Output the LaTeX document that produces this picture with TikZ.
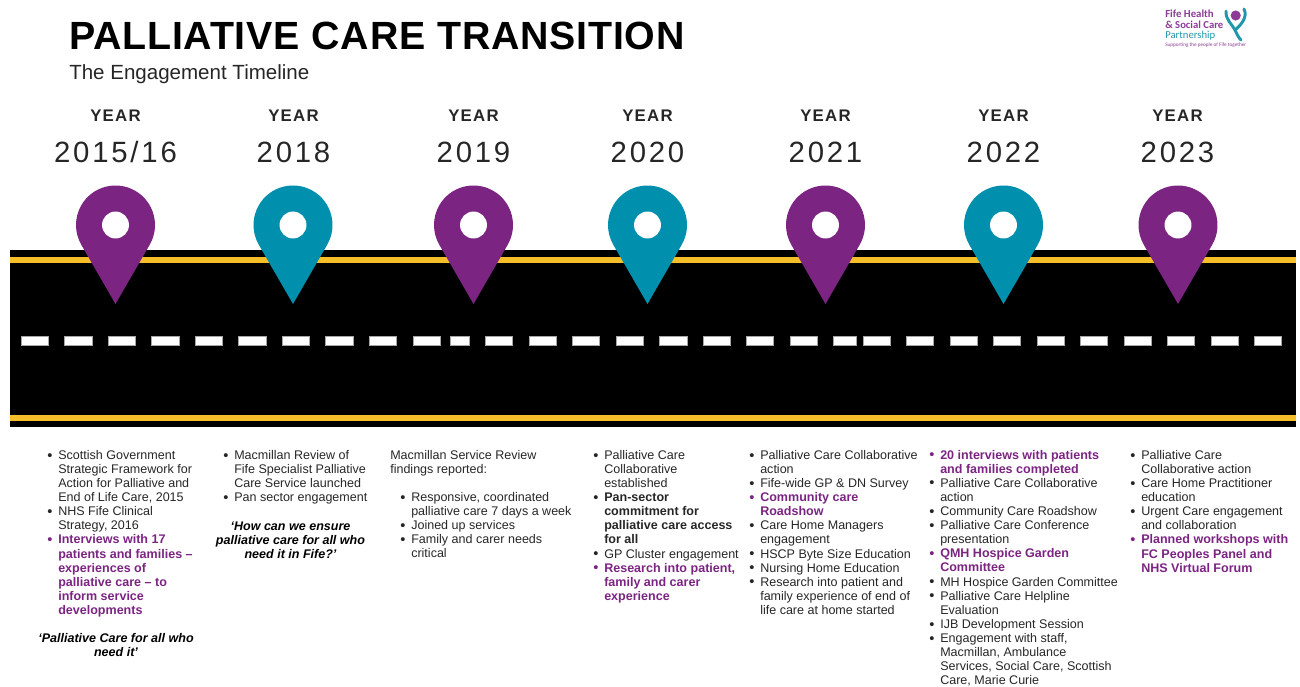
\documentclass[tikz,border=0pt]{standalone}
\usepackage{fontspec}
\setmainfont{Liberation Sans}
\newfontfamily\yrfont[LetterSpace=9.5]{Liberation Sans}
\newfontfamily\yrbfont[LetterSpace=7.5]{Liberation Sans Bold}
\newfontfamily\titlefont[LetterSpace=2]{Liberation Sans Bold}
\newfontfamily\logofont{Carlito}
\definecolor{pinpurple}{HTML}{7B2482}
\definecolor{pinteal}{HTML}{008FAD}
\definecolor{roadyellow}{HTML}{F5BF2A}
\definecolor{bodytext}{HTML}{262626}
\definecolor{logopurple}{HTML}{8C3B96}
\definecolor{logoteal}{HTML}{2296AB}
\newcommand{\bigbul}{\raisebox{-0.5pt}{\fontsize{11}{10}\selectfont\textbullet}}
\newcommand{\itm}{\leavevmode\llap{\bigbul\hspace{4.3pt}}}
\newcommand{\pl}[1]{{\color{pinpurple}\bfseries #1}}
\newcommand{\plitm}{\leavevmode\llap{\textcolor{pinpurple}{\bigbul}\hspace{4.3pt}}}
\newcommand{\firstyear}{2015/16}
\tikzset{
  bodyblock/.style={anchor=north west,inner sep=0pt,align=left,text=bodytext,
    font=\fontsize{9.4}{10.58}\selectfont},
  quoteblock/.style={anchor=north,inner sep=0pt,align=center,text=black,
    font=\fontsize{9.4}{10.58}\selectfont\bfseries\itshape},
  yearword/.style={inner sep=0pt,anchor=base,text=bodytext,font=\fontsize{12.6}{14}\yrbfont},
  yearnum/.style={inner sep=0pt,anchor=base,text=bodytext,font=\fontsize{22}{26}\yrfont},
  logotext/.style={inner sep=0pt,anchor=base west},
  dashmark/.style={fill=white,draw=black!35,line width=0.3pt},
}
\begin{document}
\begin{tikzpicture}[x=0.75pt,y=-0.75pt]
\useasboundingbox (0,0) rectangle (1300,686);
% road
\fill[black] (10,250) rectangle (1296,427);
\fill[roadyellow] (10,257) rectangle (1296,262.5);
\fill[roadyellow] (10,415) rectangle (1296,421);
\foreach \a/\b in {21/48,64/92,108/135,151/179,195/222,238/266,282/309,325/353,369/396,413/440,450/469,485/512,529/556,572/599,616/643,659/687,703/730,746/773,790/817,833/856,863/890,906/933,950/977,993/1020,1037/1064,1080/1107,1124/1151,1167/1194,1211/1238,1254/1281}
  \path[dashmark] (\a,336) rectangle (\b,345);
% pins
\foreach \cx/\col in {115.5/pinpurple,293/pinteal,473.5/pinpurple,647.5/pinteal,825.5/pinpurple,1003.5/pinteal,1178/pinpurple}{
  \fill[\col] (\cx,304) -- (\cx+34.2,244.75) arc[start angle=-30,end angle=210,radius=29.625pt] -- cycle;
  \fill[white] (\cx,225) circle[radius=10.1pt];
}
% title
\node[inner sep=0pt,anchor=base west,font=\fontsize{29.5}{34}\titlefont] (title) at (69,49.7) {PALLIATIVE CARE TRANSITION};
\node[inner sep=0pt,anchor=base west,font=\fontsize{15.4}{18}\selectfont,text=bodytext] (subtitle) at (69,79) {The Engagement Timeline};
% years
\foreach \n/\cx/\y in {a/115.5/\firstyear,b/293.5/2018,c/473.5/2019,d/647.5/2020,e/825.5/2021,f/1003.5/2022,g/1177.5/2023}{
  \node[yearword] (yw\n) at (\cx,121) {YEAR};
  \node[yearnum] (yn\n) at (\cx,162.3) {\y};
}
% text blocks
\node[bodyblock] (cola) at (58,450) {\itm Scottish Government\\Strategic Framework for\\Action for Palliative and\\End of Life Care, 2015\\\itm NHS Fife Clinical\\Strategy, 2016\\\plitm\pl{Interviews with 17}\\\pl{patients and families –}\\\pl{experiences of}\\\pl{palliative care – to}\\\pl{inform service}\\\pl{developments}};
\node[quoteblock] (quotea) at (116,633) {‘Palliative Care for all who\\need it’};
\node[bodyblock] (colb) at (234,450) {\itm Macmillan Review of\\Fife Specialist Palliative\\Care Service launched\\\itm Pan sector engagement};
\node[quoteblock] (quoteb) at (290.5,521.5) {‘How can we ensure\\palliative care for all who\\need it in Fife?’};
\node[bodyblock] (colc) at (390,450) {Macmillan Service Review\\findings reported:};
\node[bodyblock] (colclist) at (411,492) {\itm Responsive, coordinated\\palliative care 7 days a week\\\itm Joined up services\\\itm Family and carer needs\\critical};
\node[bodyblock] (cold) at (604,450) {\itm Palliative Care\\Collaborative\\established\\\itm\textbf{Pan-sector}\\\textbf{commitment for}\\\textbf{palliative care access}\\\textbf{for all}\\\itm GP Cluster engagement\\\plitm\pl{Research into patient,}\\\pl{family and carer}\\\pl{experience}};
\node[bodyblock] (cole) at (760,450) {\itm Palliative Care Collaborative\\action\\\itm Fife-wide GP \& DN Survey\\\plitm\pl{Community care}\\\pl{Roadshow}\\\itm Care Home Managers\\engagement\\\itm HSCP Byte Size Education\\\itm Nursing Home Education\\\itm Research into patient and\\family experience of end of\\life care at home started};
\node[bodyblock] (colf) at (940,449.7) {\plitm\pl{20 interviews with patients}\\\pl{and families completed}\\\itm Palliative Care Collaborative\\action\\\itm Community Care Roadshow\\\itm Palliative Care Conference\\presentation\\\plitm\pl{QMH Hospice Garden}\\\pl{Committee}\\\itm MH Hospice Garden Committee\\\itm Palliative Care Helpline\\Evaluation\\\itm IJB Development Session\\\itm Engagement with staff,\\Macmillan, Ambulance\\Services, Social Care, Scottish\\Care, Marie Curie};
\node[bodyblock] (colg) at (1141,450) {\itm Palliative Care\\Collaborative action\\\itm Care Home Practitioner\\education\\\itm Urgent Care engagement\\and collaboration\\\plitm\pl{Planned workshops with}\\\pl{FC Peoples Panel and}\\\pl{NHS Virtual Forum}};
% logo
\node[logotext,text=logopurple,font=\fontsize{8.1}{9}\logofont\bfseries] (logoa) at (1165,17.5) {Fife Health};
\node[logotext,text=logopurple,font=\fontsize{8}{9}\logofont\bfseries] (logob) at (1165,28) {\& Social Care};
\node[logotext,text=logoteal,font=\fontsize{8}{9}\logofont] (logoc) at (1165,38) {Partnership};
\node[logotext,text=logopurple,font=\fontsize{3.9}{5}\logofont] (logod) at (1165,46.5) {Supporting the people of Fife together};
\fill[logopurple] (1235.7,15.5) circle[radius=3.8pt];
\draw[logoteal,line width=2.2pt,line cap=round] (1226,11) .. controls (1225.5,20) and (1232,24) .. (1235,30) .. controls (1237,34) and (1238,37) .. (1241,40);
\draw[logoteal,line width=2.2pt,line cap=round] (1244,9) .. controls (1248,17) and (1241,25) .. (1235,30);
\end{tikzpicture}
\end{document}
